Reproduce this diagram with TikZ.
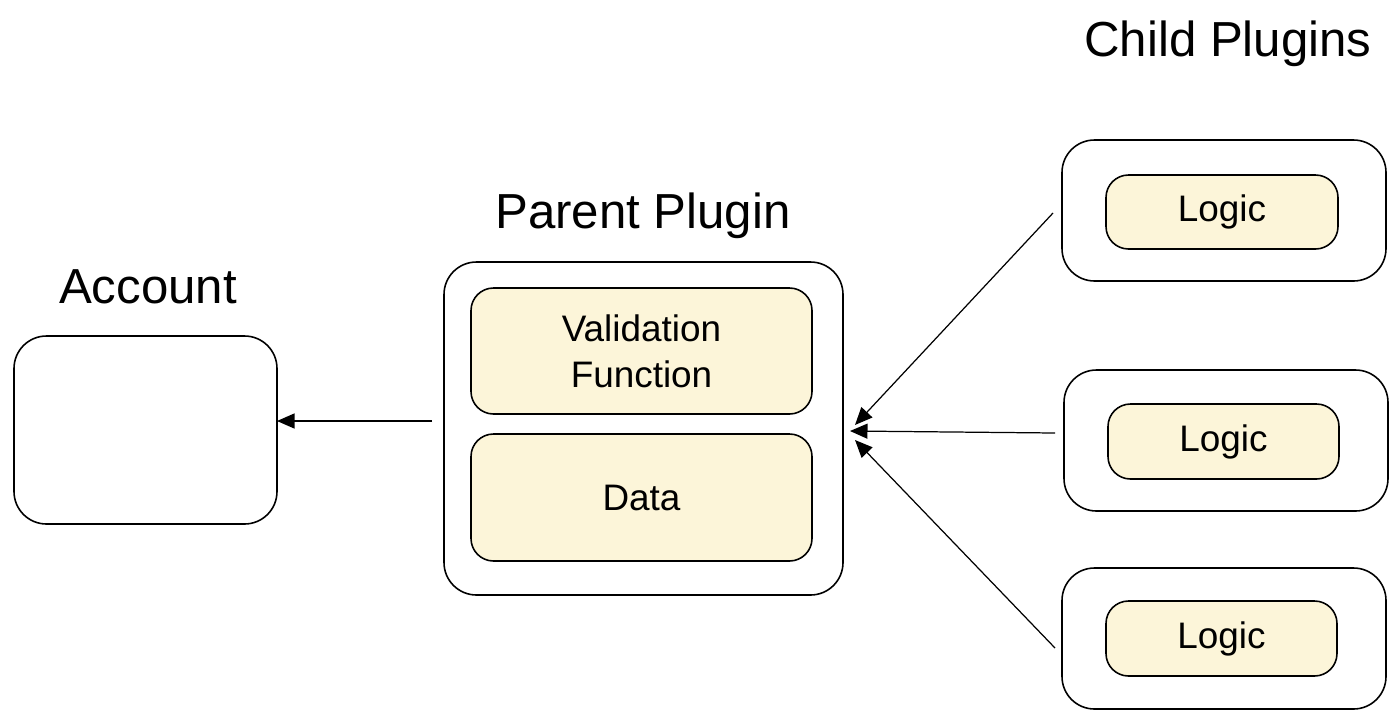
\documentclass[tikz,border=0pt]{standalone}
\usepackage{fontspec}
\setmainfont{Liberation Sans}
\usetikzlibrary{arrows.meta}
\definecolor{inner}{HTML}{FCF5D9}
\begin{document}
\begin{tikzpicture}[x=0.02cm,y=-0.02cm,
  outer/.style={draw=black,line width=0.9pt,rounded corners=0.65cm,fill=white},
  inbox/.style={draw=black,line width=0.9pt,rounded corners=0.45cm,fill=inner},
  title/.style={font=\fontsize{28}{32}\selectfont},
  lbl/.style={font=\fontsize{21}{26}\selectfont,align=center},
  conn/.style={line width=0.7pt,-{Triangle[length=0.35cm,width=0.3cm]}}]
\useasboundingbox (0,0) rectangle (1400,721);
% Account
\draw[outer] (14,336) rectangle (277,524);
\node[title] (tacc) at (148,287) {Account};
\coordinate (accR) at (277,421);
% Parent
\draw[outer] (444,262) rectangle (843,595);
\node[title] (tpar) at (643,216) {Parent Plugin};
\draw[inbox] (471,288) rectangle (812,414);
\node[lbl] (val) at (641.5,351) {Validation\\Function};
\draw[inbox] (471,434) rectangle (812,561);
\node[lbl] (data) at (641.5,498) {Data};
\coordinate (parL) at (432,421);
\coordinate (pin1) at (855,425);
\coordinate (pin2) at (850,431);
\coordinate (pin3) at (855,440);
% Children
\node[title] (tchild) at (1228,44) {Child Plugins};
\draw[outer] (1062,140) rectangle (1386,281);
\draw[inbox] (1106,175) rectangle (1338,249);
\node[lbl] (l1) at (1222,212) {Logic};
\draw[outer] (1064,370) rectangle (1388,511);
\draw[inbox] (1108,404) rectangle (1339,479);
\node[lbl] (l2) at (1223.5,441.5) {Logic};
\draw[outer] (1062,568) rectangle (1386,709);
\draw[inbox] (1106,601) rectangle (1337,676);
\node[lbl] (l3) at (1221.5,638.5) {Logic};
\coordinate (c1) at (1053,213);
\coordinate (c2) at (1055,433);
\coordinate (c3) at (1055,648);
% Connectors
\draw[conn] (parL) -- (accR);
\draw[conn] (c1) -- (pin1);
\draw[conn] (c2) -- (pin2);
\draw[conn] (c3) -- (pin3);
\end{tikzpicture}
\end{document}
